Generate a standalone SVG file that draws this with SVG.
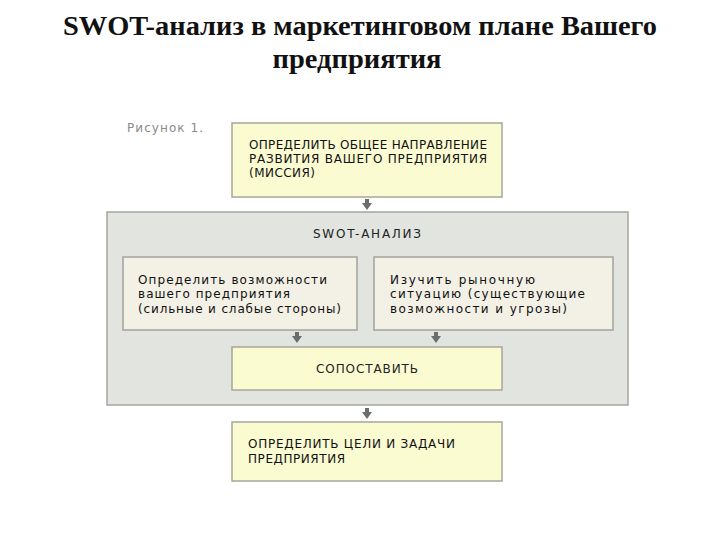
<svg xmlns="http://www.w3.org/2000/svg" width="720" height="540" viewBox="0 0 720 540">
<defs>
<style>
.title{font-family:"Liberation Serif","Times New Roman",serif;font-weight:bold;font-size:27px;fill:#111;text-anchor:middle}
.t{font-family:"DejaVu Sans","Liberation Sans",sans-serif;font-size:12px;fill:#111}
.cap{font-family:"DejaVu Sans","Liberation Sans",sans-serif;font-size:12px;fill:#222;text-anchor:middle}
.fig{font-family:"DejaVu Sans","Liberation Sans",sans-serif;font-size:12px;fill:#8a8a8a}
.yel{fill:#fbfbd2;stroke:#a7a79a;stroke-width:1.5}
.beige{fill:#f3f0e6;stroke:#a3a39c;stroke-width:1.5}
.panel{fill:#e1e4df;stroke:#a3a6a2;stroke-width:1.5}
.conn{stroke:#6a6e6a;stroke-width:4;fill:none}
</style>
<marker id="ad" viewBox="0 0 10 7" refX="5" refY="0" markerWidth="10" markerHeight="7" orient="0" markerUnits="userSpaceOnUse">
<path d="M0,0 L10,0 L5,7 Z" fill="#6a6e6a"/>
</marker>
</defs>
<rect width="720" height="540" fill="#ffffff"/>
<g id="title">
<text class="title" x="360" y="35" textLength="594" lengthAdjust="spacingAndGlyphs">SWOT-анализ в маркетинговом плане Вашего</text>
<text class="title" x="357" y="68" textLength="169" lengthAdjust="spacingAndGlyphs">предприятия</text>
</g>
<text class="fig" x="127" y="132" textLength="76">Рисунок 1.</text>
<g id="mission">
<rect class="yel" x="232" y="123" width="270" height="74"/>
<text class="t" x="249" y="149" textLength="238">ОПРЕДЕЛИТЬ ОБЩЕЕ НАПРАВЛЕНИЕ</text>
<text class="t" x="249" y="163" textLength="238">РАЗВИТИЯ ВАШЕГО ПРЕДПРИЯТИЯ</text>
<text class="t" x="249" y="177" textLength="66">(МИССИЯ)</text>
</g>
<g id="swot">
<rect class="panel" x="107" y="212" width="521" height="193"/>
<text class="cap" x="367" y="238" textLength="108">SWOT-АНАЛИЗ</text>
</g>
<g id="strengths">
<rect class="beige" x="123" y="257" width="234" height="73"/>
<text class="t" x="138" y="284" textLength="189">Определить возможности</text>
<text class="t" x="138" y="298" textLength="152">вашего предприятия</text>
<text class="t" x="138" y="313" textLength="203">(сильные и слабые стороны)</text>
</g>
<g id="market">
<rect class="beige" x="374" y="257" width="239" height="73"/>
<text class="t" x="390" y="284" textLength="145">Изучить рыночную</text>
<text class="t" x="390" y="298" textLength="195">ситуацию (существующие</text>
<text class="t" x="390" y="313" textLength="177">возможности и угрозы)</text>
</g>
<g id="compare">
<rect class="yel" x="232" y="347" width="270" height="43"/>
<text class="cap" x="367" y="373" textLength="102">СОПОСТАВИТЬ</text>
</g>
<g id="goals">
<rect class="yel" x="232" y="422" width="270" height="59"/>
<text class="t" x="248" y="448" textLength="207">ОПРЕДЕЛИТЬ ЦЕЛИ И ЗАДАЧИ</text>
<text class="t" x="248" y="463" textLength="97">ПРЕДПРИЯТИЯ</text>
</g>
<g id="connectors">
<line class="conn" x1="367" y1="199" x2="367" y2="203" marker-end="url(#ad)"/>
<line class="conn" x1="297" y1="332" x2="297" y2="336" marker-end="url(#ad)"/>
<line class="conn" x1="436" y1="332" x2="436" y2="336" marker-end="url(#ad)"/>
<line class="conn" x1="367" y1="408" x2="367" y2="412" marker-end="url(#ad)"/>
</g>
</svg>
